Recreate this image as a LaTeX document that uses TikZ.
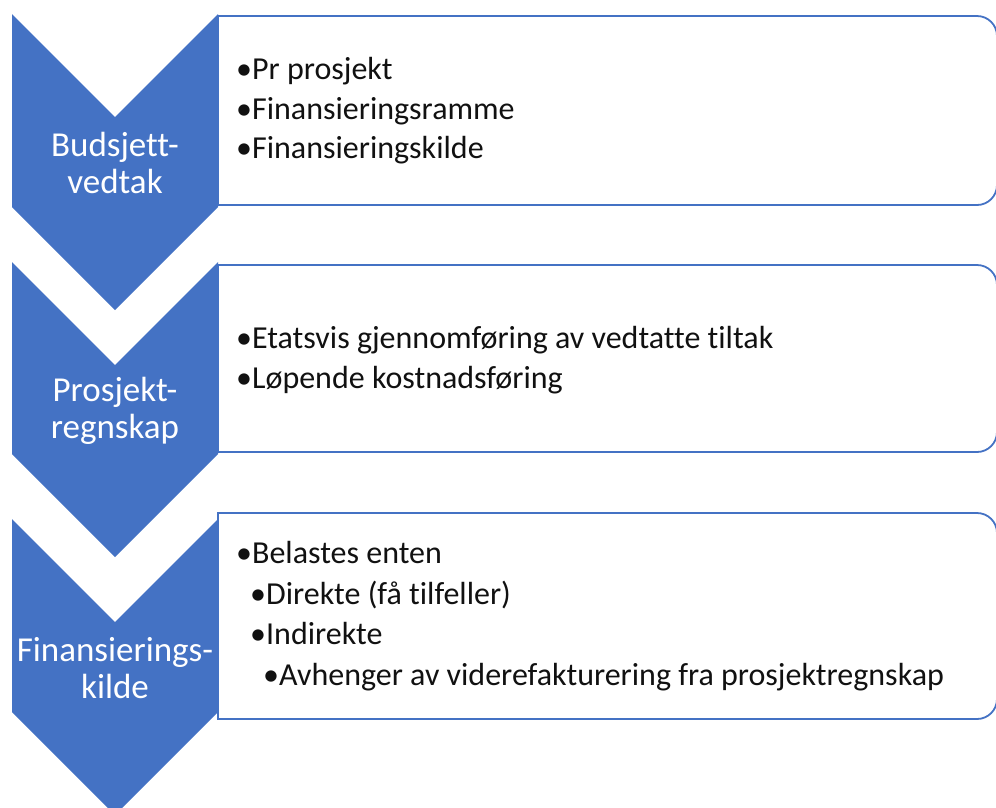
\documentclass[tikz,border=0pt]{standalone}
\usepackage{fontspec}
\setmainfont{Carlito}[Ligatures={NoCommon}]
\definecolor{accent}{HTML}{4472C4}
\definecolor{txt}{HTML}{111111}
\begin{document}
\begin{tikzpicture}[x=1pt,y=-1pt,
  chev/.style={fill=accent,draw=none},
  boxline/.style={draw=accent,line width=1.8pt,fill=white},
  chevtext/.style={text=white,align=center,font=\fontsize{35}{37}\selectfont,inner sep=0pt},
  item/.style={anchor=base west,text=txt,font=\fontsize{32}{38}\selectfont,inner sep=0pt}]
\useasboundingbox (0,0) rectangle (996,807);
\clip (0,0) rectangle (996,807);
% chevrons
\fill[chev] (12,14) -- (115,117) -- (218,14) -- (218,207) -- (115,310) -- (12,207) -- cycle;
\fill[chev] (12,262) -- (115,365) -- (218,262) -- (218,454) -- (115,557) -- (12,454) -- cycle;
\fill[chev] (12,519) -- (115,622) -- (218,519) -- (218,712) -- (115,815) -- (12,712) -- cycle;
% boxes
\path[boxline] (218,16) -- (977,16) arc[start angle=-90,end angle=0,radius=20] -- (997,185) arc[start angle=0,end angle=90,radius=20] -- (218,205) -- cycle;
\path[boxline] (218,265) -- (977,265) arc[start angle=-90,end angle=0,radius=20] -- (997,432) arc[start angle=0,end angle=90,radius=20] -- (218,452) -- cycle;
\path[boxline] (218,513) -- (977,513) arc[start angle=-90,end angle=0,radius=20] -- (997,699) arc[start angle=0,end angle=90,radius=20] -- (218,719) -- cycle;
% chevron labels
\node[chevtext] (c1) at (115,163) {Budsjett-\\vedtak};
\node[chevtext] (c2) at (115,411) {Prosjekt-\\regnskap};
\node[chevtext] (c3) at (115,668) {Finansierings-\\kilde};
% box 1 text
\node[item] (a1) at (236,79) {•Pr prosjekt};
\node[item] (a2) at (236,119) {•Finansieringsramme};
\node[item] (a3) at (236,158) {•Finansieringskilde};
% box 2 text
\node[item] (b1) at (236,348) {•Etatsvis gjennomføring av vedtatte tiltak};
\node[item] (b2) at (236,388) {•Løpende kostnadsføring};
% box 3 text
\node[item] (d1) at (236,563) {•Belastes enten};
\node[item] (d2) at (250,604) {•Direkte (få tilfeller)};
\node[item] (d3) at (250,644) {•Indirekte};
\node[item] (d4) at (263,685) {•Avhenger av viderefakturering fra prosjektregnskap};
\end{tikzpicture}
\end{document}
